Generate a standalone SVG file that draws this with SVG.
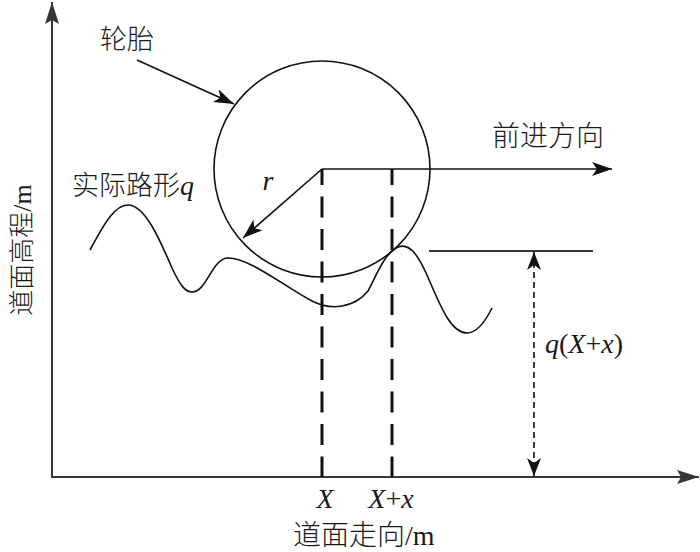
<svg xmlns="http://www.w3.org/2000/svg" width="700" height="552" viewBox="0 0 700 552">
<style>
.cn{font-family:"Noto Sans CJK SC","Noto Sans",sans-serif;fill:#1a1a1a;font-weight:300}
.it{font-family:"Liberation Serif","Times New Roman",serif;font-style:italic;fill:#1a1a1a}
.rm{font-family:"Liberation Serif","Times New Roman",serif;fill:#1a1a1a}
.ln{fill:none;stroke:#111;stroke-width:1.6}
.axis{fill:none;stroke:#3a3532;stroke-width:2}
.dash{fill:none;stroke:#111;stroke-width:3;stroke-dasharray:21 11.5;stroke-dashoffset:5}
.fdash{fill:none;stroke:#111;stroke-width:1.6;stroke-dasharray:6 4}
</style>
<defs>
<marker id="ah" markerUnits="userSpaceOnUse" markerWidth="22" markerHeight="16" refX="20" refY="7" orient="auto">
<path d="M0,0 L20,7 L0,14 L5,7 Z" fill="#111"/>
</marker>
<marker id="aax" markerUnits="userSpaceOnUse" markerWidth="24" markerHeight="16" refX="22" refY="7" orient="auto">
<path d="M0,0 L22,7 L0,14 L4,7 Z" fill="#3a3532"/>
</marker>
<marker id="as" markerUnits="userSpaceOnUse" markerWidth="20" markerHeight="16" refX="18" refY="7" orient="auto-start-reverse">
<path d="M0,0 L18,7 L0,14 L5,7 Z" fill="#111"/>
</marker>
</defs>
<g id="axes">
<line class="axis" x1="52" y1="478" x2="52" y2="2" marker-end="url(#aax)"/>
<line class="axis" x1="52" y1="477" x2="699" y2="477" marker-end="url(#aax)"/>
</g>
<g id="tire">
<circle class="ln" cx="322" cy="169" r="108"/>
</g>
<g id="road">
<path class="ln" d="M90,250 C105,222 115,205 128,205 C145,205 160,240 172,268 C180,285 185,292 192,292 C207,292 212,258 228,258 C250,258 285,287 312,301 C322,306 332,308 342,306 C356,303 362,298 368,291 C376,276 384,255 396,248 C410,240 420,258 430,282 C442,310 452,333 467,333 C478,333 486,320 492,308"/>
</g>
<g id="connectors">
<line class="ln" x1="137" y1="60" x2="234" y2="104" marker-end="url(#ah)"/>
<line class="ln" x1="322" y1="169" x2="243" y2="238" marker-end="url(#ah)"/>
<line class="ln" x1="322" y1="169" x2="612" y2="169" marker-end="url(#ah)"/>
<line class="dash" x1="322" y1="169" x2="322" y2="477"/>
<line class="dash" x1="392" y1="169" x2="392" y2="477"/>
<line x1="429" y1="251" x2="593" y2="251" stroke="#3a3532" stroke-width="1.8"/>
<line class="fdash" x1="534" y1="252" x2="534" y2="476" marker-start="url(#as)" marker-end="url(#as)"/>
</g>
<g id="labels">
<text class="cn" x="100" y="49" font-size="27">轮胎</text>
<text class="cn" x="492" y="146" font-size="28">前进方向</text>
<text x="72" y="195" font-size="27"><tspan class="cn">实际路形</tspan><tspan class="it" font-size="28">q</tspan></text>
<text class="it" x="268" y="190" font-size="28" text-anchor="middle">r</text>
<text x="545" y="353" font-size="28"><tspan class="it">q</tspan><tspan class="rm">(</tspan><tspan class="it">X</tspan><tspan class="rm">+</tspan><tspan class="it">x</tspan><tspan class="rm">)</tspan></text>
<text class="it" x="325" y="508" font-size="28" text-anchor="middle">X</text>
<text x="391" y="508" font-size="28" text-anchor="middle"><tspan class="it">X</tspan><tspan class="rm">+</tspan><tspan class="it">x</tspan></text>
<text x="293" y="545" font-size="28"><tspan class="cn">道面走向</tspan><tspan class="rm">/m</tspan></text>
<text transform="translate(31,250) rotate(-90)" text-anchor="middle" font-size="26"><tspan class="cn">道面高程</tspan><tspan class="rm">/m</tspan></text>
</g>
</svg>
